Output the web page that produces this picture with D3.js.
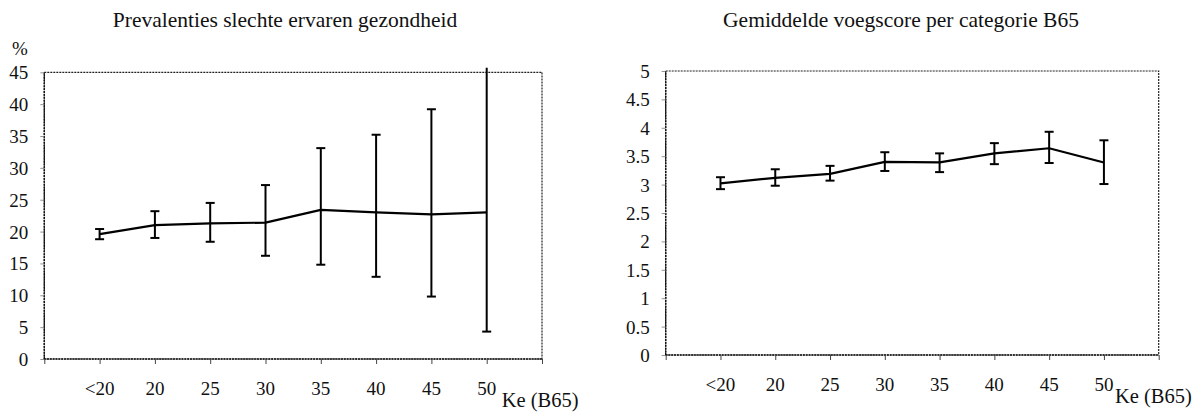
<!DOCTYPE html>
<html>
<head>
<meta charset="utf-8">
<script src="https://cdn.jsdelivr.net/npm/d3@7"></script>
<style>
  html, body { margin: 0; padding: 0; background: #fff; }
  svg { display: block; }
  text { font-family: "Liberation Serif", "Times New Roman", serif; fill: #111; }
</style>
</head>
<body>
<svg id="chart" width="1196" height="413"></svg>
<script>
// ---- data ----
const categories = ["<20", "20", "25", "30", "35", "40", "45", "50"];

// Left panel: prevalence of poor self-rated health (%)
const prevalence      = [19.6, 21.0, 21.3, 21.4, 23.4, 23.0, 22.7, 23.0];
const prevalenceUpper = [20.4, 23.2, 24.5, 27.3, 33.1, 35.2, 39.2, 45.7];
const prevalenceLower = [18.8, 19.0, 18.4, 16.2, 14.8, 12.9,  9.8,  4.3];
const prevalenceTicks = [0, 5, 10, 15, 20, 25, 30, 35, 40, 45];

// Right panel: mean score per category
const score      = [3.02, 3.12, 3.19, 3.40, 3.39, 3.55, 3.64, 3.39];
const scoreUpper = [3.13, 3.27, 3.33, 3.57, 3.55, 3.73, 3.93, 3.78];
const scoreLower = [2.92, 2.98, 3.07, 3.24, 3.22, 3.36, 3.38, 3.01];
const scoreTicks = [0, 0.5, 1, 1.5, 2, 2.5, 3, 3.5, 4, 4.5, 5];

const titles = ["Prevalenties slechte ervaren gezondheid", "Gemiddelde voegscore per categorie B65"];
const xAxisTitle = "Ke (B65)";
const yUnit = "%";

const svg = d3.select("#chart");

function panel(opts) {
  const g = svg.append("g");
  const n = categories.length;
  const x = d3.scaleLinear().domain([0, n + 1]).range([opts.x0, opts.x1]);
  const y = d3.scaleLinear().domain([0, opts.ticks[opts.ticks.length - 1]]).range([opts.yB, opts.yT]);
  const yMax = y.domain()[1];

  // title
  g.append("text")
    .attr("x", opts.titleX).attr("y", 27)
    .attr("text-anchor", "middle")
    .style("font-size", "21.5px")
    .text(opts.title);

  // frame (dotted)
  g.append("rect")
    .attr("x", x(0)).attr("y", y(yMax))
    .attr("width", x(n + 1) - x(0)).attr("height", y(0) - y(yMax))
    .attr("fill", "none").attr("stroke", "#222")
    .attr("stroke-width", 1.2).attr("stroke-dasharray", "2,1");
  // stronger axes lines left & bottom
  g.append("line").attr("x1", x(0)).attr("x2", x(0)).attr("y1", y(0)).attr("y2", y(yMax))
    .attr("stroke", "#111").attr("stroke-width", 1.4).attr("stroke-dasharray", "2,0.8");
  g.append("line").attr("x1", x(0)).attr("x2", x(n + 1)).attr("y1", y(0)).attr("y2", y(0))
    .attr("stroke", "#111").attr("stroke-width", 1.4).attr("stroke-dasharray", "2,0.8");

  // y axis (ticks + labels)
  const yAxis = d3.axisLeft(y).tickValues(opts.ticks).tickSize(4).tickPadding(12)
    .tickFormat(d => String(d));
  const ya = g.append("g").attr("transform", `translate(${x(0)},0)`).call(yAxis);
  ya.select(".domain").remove();
  ya.selectAll(".tick line").attr("stroke", "#777").attr("stroke-width", 0.8);
  ya.selectAll(".tick text").style("font-size", "19px")
    .attr("font-family", null).attr("dy", "0.34em");

  // x axis tick marks at boundaries
  const xAxis = d3.axisBottom(x).tickValues(d3.range(0, n + 2)).tickSize(5).tickFormat("");
  const xa = g.append("g").attr("transform", `translate(0,${y(0)})`).call(xAxis);
  xa.select(".domain").remove();
  xa.selectAll(".tick line").attr("stroke", "#444").attr("stroke-width", 1);

  // x labels
  g.selectAll("text.xl").data(categories).join("text")
    .attr("class", "xl")
    .attr("x", (d, i) => x(i + 1)).attr("y", y(0) + 36)
    .attr("text-anchor", "middle")
    .style("font-size", "19px")
    .text(d => d);

  g.append("text")
    .attr("x", x(n) + opts.keOffset).attr("y", y(0) + 48)
    .style("font-size", "20.5px")
    .text(xAxisTitle);

  if (opts.unit) {
    g.append("text").attr("x", 20).attr("y", 55).attr("text-anchor", "middle")
      .style("font-size", "19px").text(opts.unit);
  }

  // error bars
  const cap = 4.5;
  opts.values.forEach((v, i) => {
    const cx = x(i + 1);
    const up = opts.upper[i], lo = opts.lower[i];
    g.append("line").attr("x1", cx).attr("x2", cx)
      .attr("y1", y(lo)).attr("y2", y(up))
      .attr("stroke", "#000").attr("stroke-width", 2);
    if (up <= yMax) {
      g.append("line").attr("x1", cx - cap).attr("x2", cx + cap)
        .attr("y1", y(up)).attr("y2", y(up)).attr("stroke", "#000").attr("stroke-width", 2);
    }
    g.append("line").attr("x1", cx - cap).attr("x2", cx + cap)
      .attr("y1", y(lo)).attr("y2", y(lo)).attr("stroke", "#000").attr("stroke-width", 2);
  });

  // line
  const line = d3.line().x((d, i) => x(i + 1)).y(d => y(d));
  g.append("path").datum(opts.values).attr("d", line)
    .attr("fill", "none").attr("stroke", "#000").attr("stroke-width", 2.2)
    .attr("stroke-linejoin", "round");
}

panel({
  x0: 44.3, x1: 542, yT: 72.3, yB: 359,
  ticks: prevalenceTicks, values: prevalence, upper: prevalenceUpper, lower: prevalenceLower,
  title: titles[0], titleX: 285, keOffset: 15, unit: yUnit
});
panel({
  x0: 665.7, x1: 1158.7, yT: 71, yB: 355,
  ticks: scoreTicks, values: score, upper: scoreUpper, lower: scoreLower,
  title: titles[1], titleX: 901, keOffset: 11, unit: null
});
</script>
</body>
</html>
